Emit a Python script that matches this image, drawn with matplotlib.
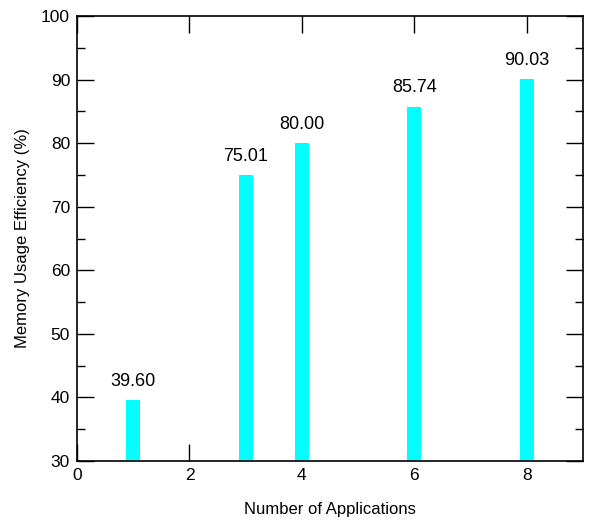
import matplotlib
matplotlib.use("Agg")
import matplotlib.pyplot as plt
from matplotlib.ticker import MultipleLocator

plt.rcParams['font.family'] = ['Liberation Sans', 'DejaVu Sans']

apps = [1, 3, 4, 6, 8]
efficiency = [39.60, 75.01, 80.00, 85.74, 90.03]
labels = ["39.60", "75.01", "80.00", "85.74", "90.03"]

fig = plt.figure(figsize=(5.93, 5.23), dpi=100)
ax = fig.add_axes([77/593, 1 - 461/523, (583-77)/593, (461-16)/523])

ax.bar(apps, [v - 30 for v in efficiency], bottom=30, width=0.25, color='#00FFFF',
       edgecolor='none', zorder=2)
for x, v, t in zip(apps, efficiency, labels):
    ax.text(x, v + 1.6, t, ha='center', va='bottom', fontsize=13)

ax.set_xlim(0, 9)
ax.set_ylim(30, 100)
ax.xaxis.set_major_locator(MultipleLocator(2))
ax.yaxis.set_major_locator(MultipleLocator(10))
ax.yaxis.set_minor_locator(MultipleLocator(5))
ax.tick_params(which='both', direction='in', top=True, right=True, labelsize=12.5, width=1)
ax.tick_params(which='major', length=12, pad=5)
ax.tick_params(which='minor', length=6)
ax.tick_params(axis='x', which='minor', length=0)
for s in ax.spines.values():
    s.set_linewidth(1.2)

ax.set_xlabel("Number of Applications", fontsize=12, labelpad=14)
ax.set_ylabel("Memory Usage Efficiency (%)", fontsize=12, labelpad=8)

fig.savefig("out.png", dpi=100)
